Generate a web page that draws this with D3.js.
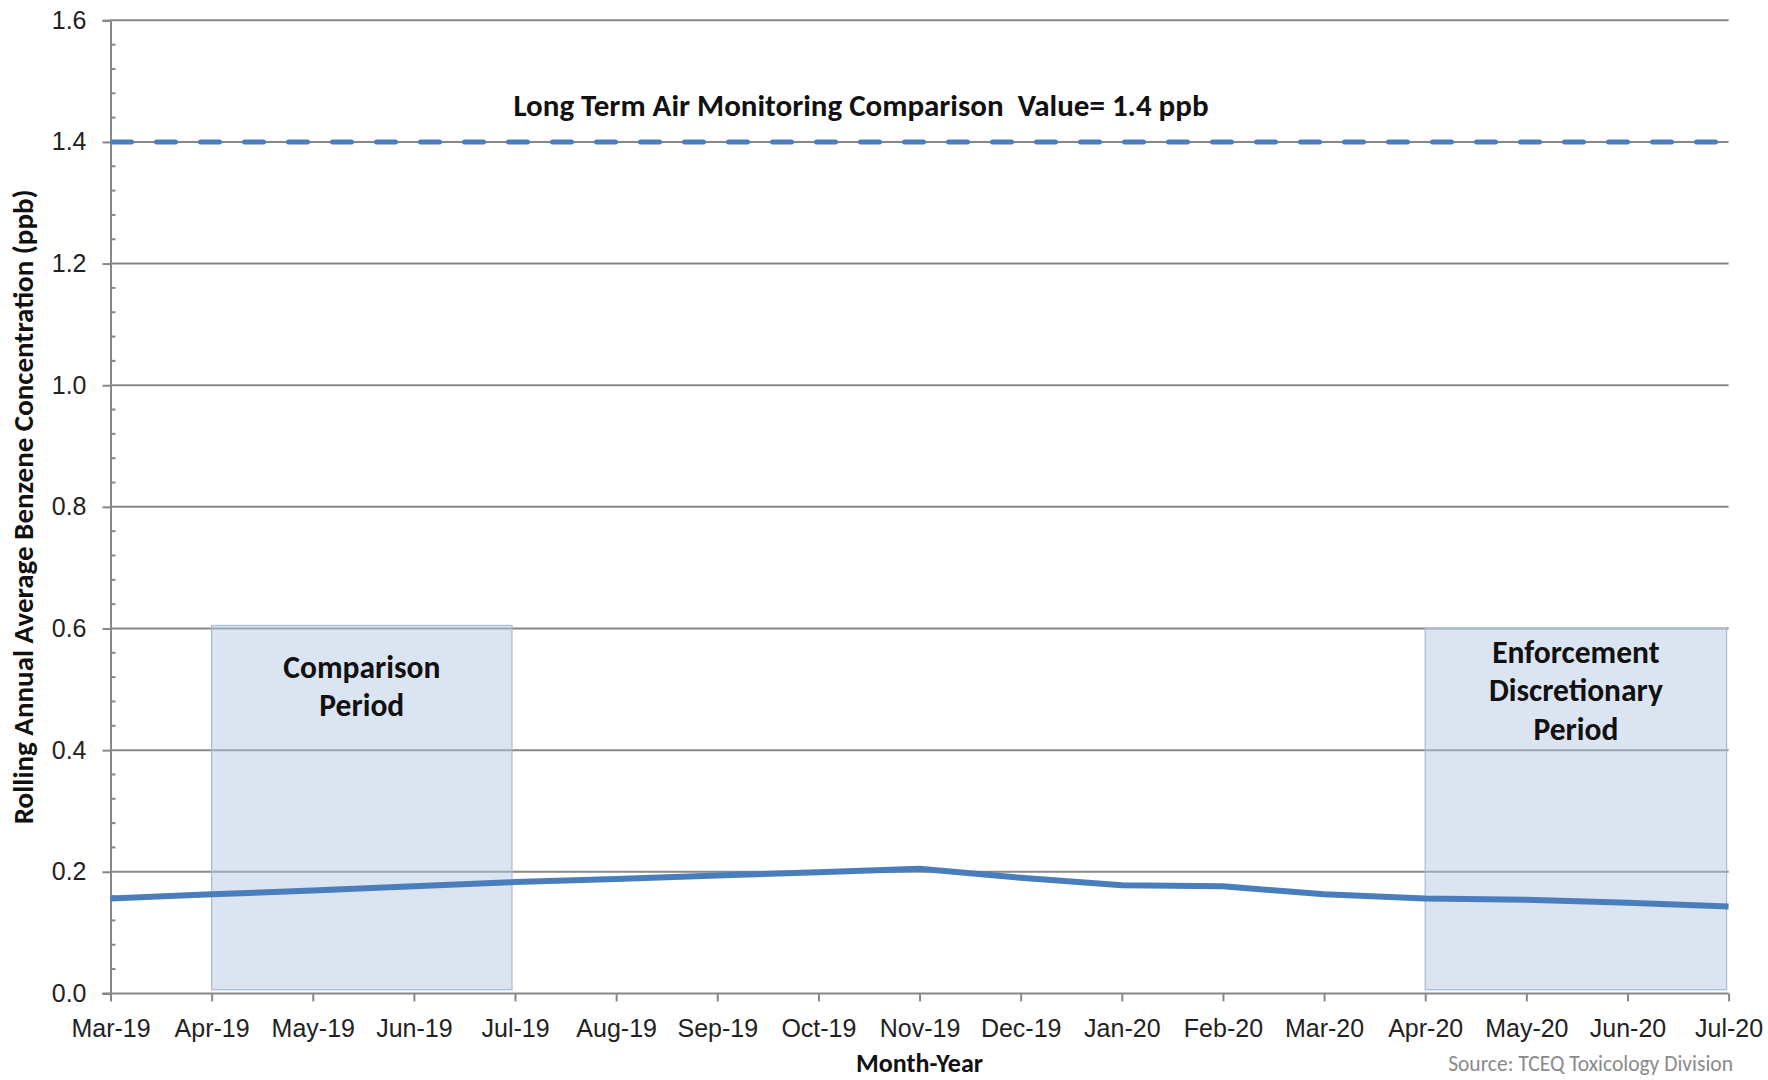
<!DOCTYPE html>
<html>
<head>
<meta charset="utf-8">
<script src="https://cdn.jsdelivr.net/npm/d3@7"></script>
<style>
  html, body { margin: 0; padding: 0; background: #fff; }
  svg { display: block; font-family: Carlito, Calibri, Lato, sans-serif; }
</style>
</head>
<body>
<svg id="chart" width="1768" height="1080"></svg>
<script>
// ---- Data ----
const months = ["Mar-19","Apr-19","May-19","Jun-19","Jul-19","Aug-19","Sep-19","Oct-19","Nov-19","Dec-19","Jan-20","Feb-20","Mar-20","Apr-20","May-20","Jun-20","Jul-20"];
const benzene = [0.156,0.163,0.169,0.176,0.183,0.188,0.194,0.199,0.205,0.190,0.178,0.176,0.163,0.156,0.154,0.149,0.143];
const yTicks = [0.0,0.2,0.4,0.6,0.8,1.0,1.2,1.4,1.6];
const comparisonValue = 1.4;
const periodNames = [["Comparison","Period"],["Enforcement","Discretionary","Period"]];
const periodStart = [1, 13];      // month index
const periodEnd = [3.97, 15.98];  // month index
const periodTop = [0.605, 0.600];
const periodBottom = [0.006, 0.006];

// ---- Layout ----
const svg = d3.select("#chart");
const pL = 110.5, pR = 1728.6, pT = 20.3, pB = 993.4;
const x = d3.scaleLinear().domain([0, months.length - 1]).range([pL, pR]);
const y = d3.scaleLinear().domain([0, 1.6]).range([pB, pT]);
const gridColor = "#878787";
const lineColor = "#4a7dbb";

// gridlines
svg.append("g").selectAll("line").data(yTicks.filter(d => d > 0)).join("line")
  .attr("x1", pL).attr("x2", pR)
  .attr("y1", d => y(d)).attr("y2", d => y(d))
  .attr("stroke", gridColor).attr("stroke-width", 2);

// Y axis (major ticks outward, minor ticks inward)
const yAxis = svg.append("g").attr("transform", `translate(${pL},0)`)
  .call(d3.axisLeft(y).tickValues(yTicks).tickFormat(d3.format(".1f")).tickSize(8).tickPadding(16));
yAxis.select(".domain").attr("stroke", gridColor).attr("stroke-width", 2);
yAxis.selectAll(".tick line").attr("stroke", gridColor).attr("stroke-width", 2);
yAxis.selectAll(".tick text").attr("font-size", 25).attr("fill", "#222");
const minor = d3.range(0, 1.6001, 0.04).filter(v => Math.abs(v / 0.2 - Math.round(v / 0.2)) > 1e-6);
svg.append("g").selectAll("line").data(minor).join("line")
  .attr("x1", pL).attr("x2", pL + 5)
  .attr("y1", d => y(d)).attr("y2", d => y(d))
  .attr("stroke", gridColor).attr("stroke-width", 2);

// X axis
const xAxis = svg.append("g").attr("transform", `translate(0,${pB})`)
  .call(d3.axisBottom(x).tickValues(d3.range(months.length)).tickFormat(i => months[i]).tickSize(8).tickPadding(18).tickSizeOuter(0));
xAxis.select(".domain").attr("stroke", gridColor).attr("stroke-width", 2)
  .attr("d", `M${pL - 8},0H${pR}`);
xAxis.selectAll(".tick line").attr("stroke", gridColor).attr("stroke-width", 2);
xAxis.selectAll(".tick text").attr("font-size", 25).attr("fill", "#222");

// period boxes
const periods = periodStart.map((s, i) => ({s, e: periodEnd[i], t: periodTop[i], b: periodBottom[i], name: periodNames[i]}));
svg.append("g").selectAll("rect").data(periods).join("rect")
  .attr("x", d => x(d.s)).attr("width", d => x(d.e) - x(d.s))
  .attr("y", d => y(d.t)).attr("height", d => y(d.b) - y(d.t))
  .attr("fill", "rgba(180,200,226,0.48)")
  .attr("stroke", "#a5bad7").attr("stroke-width", 1.2);

// period labels
const labY = [[670, 708], [655, 693, 732]];
periods.forEach((p, i) => {
  const cx = (x(p.s) + x(p.e)) / 2;
  const t = svg.append("text").attr("text-anchor", "middle")
    .attr("font-size", 31.5).attr("font-weight", "bold").attr("fill", "#111");
  p.name.forEach((ln, j) => {
    t.append("tspan").attr("x", cx).attr("y", labY[i][j]).attr("dominant-baseline", "middle").text(ln);
  });
});

// comparison value dashed line
svg.append("line")
  .attr("x1", x(0)).attr("x2", x(months.length - 1))
  .attr("y1", y(comparisonValue)).attr("y2", y(comparisonValue))
  .attr("stroke", lineColor).attr("stroke-width", 5)
  .attr("stroke-dasharray", "19,25").attr("stroke-linecap", "round")
  .attr("stroke-dashoffset", -2);

svg.append("text").attr("x", 861).attr("y", 108)
  .attr("text-anchor", "middle").attr("dominant-baseline", "middle")
  .attr("font-size", 31).attr("font-weight", "bold").attr("fill", "#111")
  .style("white-space", "pre")
  .text("Long Term Air Monitoring Comparison  Value= 1.4 ppb");

// data line
svg.append("path").datum(benzene)
  .attr("d", d3.line().x((d, i) => x(i)).y(d => y(d)))
  .attr("fill", "none").attr("stroke", lineColor).attr("stroke-width", 6)
  .attr("stroke-linejoin", "round");

// axis titles
svg.append("text").attr("transform", `translate(26,${(pT + pB) / 2}) rotate(-90)`)
  .attr("text-anchor", "middle").attr("dominant-baseline", "middle")
  .attr("font-size", 29).attr("font-weight", "bold").attr("fill", "#111")
  .text("Rolling Annual Average Benzene Concentration (ppb)");
svg.append("text").attr("x", (pL + pR) / 2).attr("y", 1066)
  .attr("text-anchor", "middle").attr("dominant-baseline", "middle")
  .attr("font-size", 26).attr("font-weight", "bold").attr("fill", "#111")
  .text("Month-Year");
svg.append("text").attr("x", 1733).attr("y", 1066)
  .attr("text-anchor", "end").attr("dominant-baseline", "middle")
  .attr("font-size", 21.5).attr("fill", "#8a8a8a")
  .text("Source: TCEQ Toxicology Division");
</script>
</body>
</html>
